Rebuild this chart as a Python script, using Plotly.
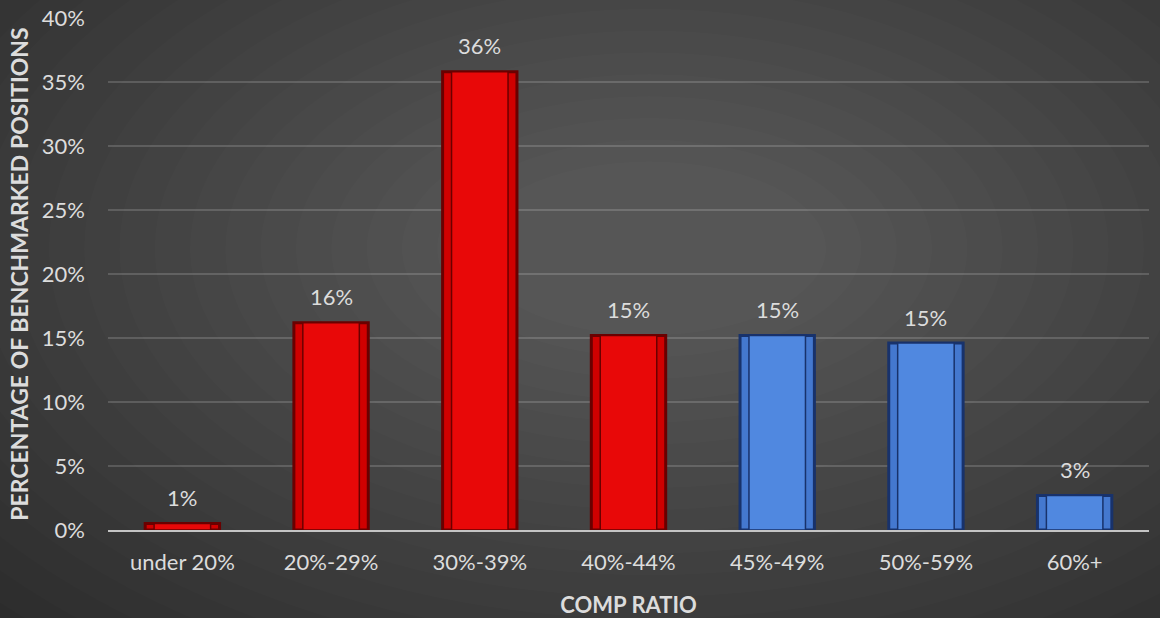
import plotly.graph_objects as go

categories = ["under 20%", "20%-29%", "30%-39%", "40%-44%", "45%-49%", "50%-59%", "60%+"]
values = [0.5, 16.2, 35.8, 15.2, 15.2, 14.6, 2.7]
labels = ["1%", "16%", "36%", "15%", "15%", "15%", "3%"]
groups = ["red", "red", "red", "red", "blue", "blue", "blue"]
y_ticks = [0, 5, 10, 15, 20, 25, 30, 35, 40]
y_tick_labels = ["0%", "5%", "10%", "15%", "20%", "25%", "30%", "35%", "40%"]

fill = {"red": "#d00000", "blue": "#4478cf"}
edge = {"red": "#6a0000", "blue": "#18326b"}
inner = {"red": "#e80808", "blue": "#5088e0"}

FONT = "Lato, Open Sans, sans-serif"
TXT = "#dcdcdc"

fig = go.Figure()
fig.add_trace(go.Bar(
    x=categories, y=values, width=0.5,
    marker=dict(color=[fill[g] for g in groups],
                line=dict(color=[edge[g] for g in groups], width=3)),
    hoverinfo="skip", showlegend=False,
))
fig.add_trace(go.Bar(
    x=categories, y=values, width=0.38,
    marker=dict(color=[inner[g] for g in groups],
                line=dict(color=[edge[g] for g in groups], width=1.5)),
    hoverinfo="skip", showlegend=False,
))

annotations = [
    dict(x=c, y=v, text=t, xref="x", yref="y", showarrow=False, yshift=26,
         font=dict(family=FONT, size=22, color=TXT))
    for c, v, t in zip(categories, values, labels)
]

# smooth dark vignette background built from many faint ellipses
shapes = []
n_layers = 24
for i in range(n_layers):
    f = i / (n_layers - 1)
    hx = 0.95 - 0.78 * f
    hy = 1.15 - 0.98 * f
    cx, cy = 0.52, 0.55
    shapes.append(dict(type="circle", xref="paper", yref="paper",
                       x0=cx - hx, x1=cx + hx, y0=cy - hy, y1=cy + hy,
                       fillcolor="rgba(255,255,255,0.0105)", line=dict(width=0),
                       layer="below"))

fig.update_layout(
    width=1160, height=618,
    margin=dict(l=108, r=11, t=18, b=88),
    paper_bgcolor="#262626",
    plot_bgcolor="rgba(0,0,0,0)",
    barmode="overlay",
    bargap=0.5,
    shapes=shapes,
    annotations=annotations,
    font=dict(family=FONT, color=TXT),
    xaxis=dict(
        title=dict(text="<b>COMP RATIO</b>", font=dict(family=FONT, size=22, color=TXT), standoff=26),
        tickfont=dict(family=FONT, size=22, color=TXT),
        showgrid=False, showline=True, linecolor="#c4c4c4", linewidth=2,
        ticks="", zeroline=False, ticklabelstandoff=12, automargin=False,
    ),
    yaxis=dict(
        title=dict(text="<b>PERCENTAGE OF BENCHMARKED POSITIONS</b>", font=dict(family=FONT, size=23, color=TXT), standoff=6),
        range=[0, 40], tickvals=y_ticks, ticktext=y_tick_labels,
        tickfont=dict(family=FONT, size=22, color=TXT),
        showgrid=True, gridcolor="rgba(255,255,255,0.16)", gridwidth=1.5,
        zeroline=False, showline=False, ticks="", ticklen=0,
        ticklabelstandoff=22, automargin=False,
    ),
)

fig.write_html("out.html")
